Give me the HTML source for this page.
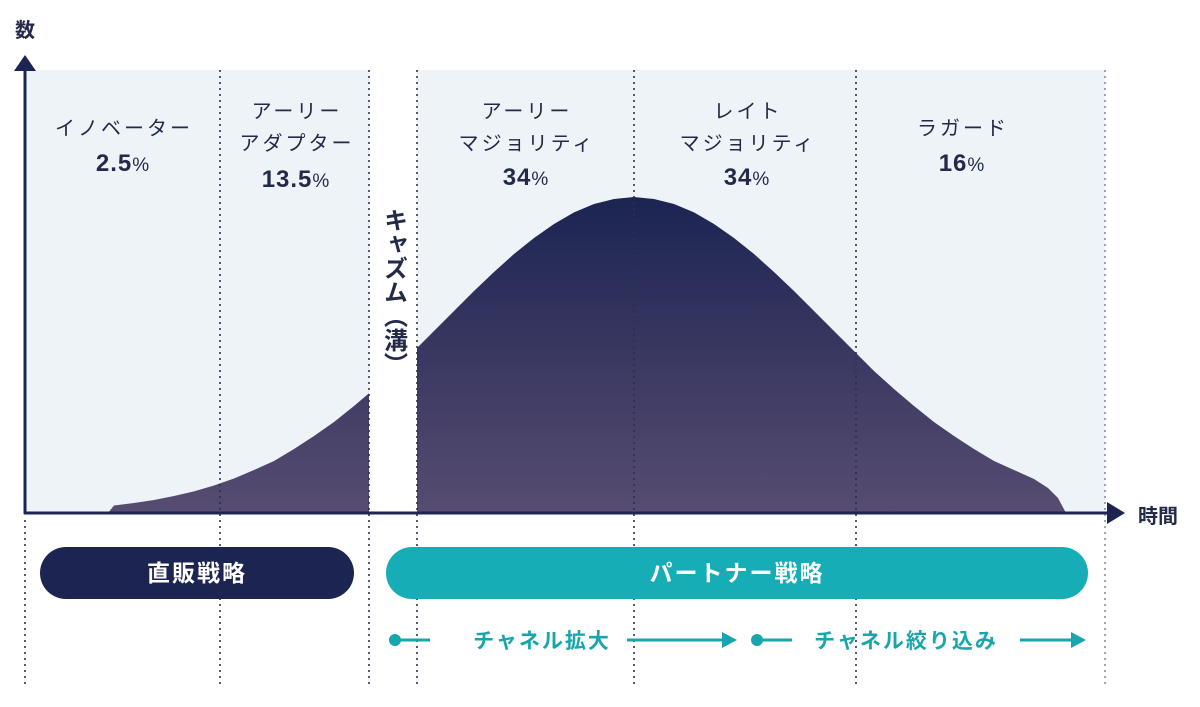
<!DOCTYPE html>
<html><head><meta charset="utf-8"><style>
html,body{margin:0;padding:0;background:#fff;}
body{width:1200px;height:707px;overflow:hidden;position:relative;font-family:"Liberation Sans","Noto Sans CJK JP",sans-serif;color:#222a48;}
svg{position:absolute;left:0;top:0;}
.t{font-family:"Liberation Sans","Noto Sans CJK JP",sans-serif;}
</style></head><body>
<svg width="1200" height="707" viewBox="0 0 1200 707">
<defs>
<linearGradient id="g" x1="0" y1="197" x2="0" y2="513" gradientUnits="userSpaceOnUse">
<stop offset="0" stop-color="#1c2452"/>
<stop offset="1" stop-color="#574c71"/>
</linearGradient>
</defs>
<rect x="25" y="70" width="1080" height="443" fill="#eef3f8"/>
<path d="M108,513 L114,505.5 L134,503 L154,500 L174,496 L194,491.4 L214,485.5 L234,478.5 L254,470 L274,461 L294,449 L314,436 L334,422 L354,406 L374,389 L394,371 L414,351 L434,331 L454,311 L474,291 L494,272 L514,254 L534,238 L554,224 L574,212.4 L594,204 L614,199 L634,197 L654,199 L674,204 L694,212.4 L714,224 L734,238 L754,254 L774,272 L794,291 L814,311 L834,331 L854,351 L874,371 L894,389 L914,406 L934,422 L954,436 L974,449 L994,461 L1014,470 L1034,479 L1048,488 L1058,498 L1066,513 Z" fill="url(#g)"/>
<rect x="369" y="70" width="48" height="442" fill="#fff"/>
<g stroke="#2a3150" stroke-width="1.6" stroke-dasharray="2,4">
<line x1="220" y1="70" x2="220" y2="688"/>
<line x1="369" y1="70" x2="369" y2="688"/>
<line x1="417" y1="70" x2="417" y2="688"/>
<line x1="634" y1="70" x2="634" y2="688"/>
<line x1="856" y1="70" x2="856" y2="688"/>
<line x1="25" y1="520" x2="25" y2="688"/>
</g>
<line x1="1105" y1="70" x2="1105" y2="688" stroke="#7a8098" stroke-width="1.4" stroke-dasharray="2,4"/>
<line x1="25" y1="68" x2="25" y2="514" stroke="#1c2452" stroke-width="3"/>
<polygon points="25,55 14,71 36,71" fill="#1c2452"/>
<line x1="24" y1="513" x2="1110" y2="513" stroke="#1c2452" stroke-width="3"/>
<polygon points="1125,513 1107,502 1107,524" fill="#1c2452"/>
<text x="25" y="37" text-anchor="middle" font-size="20" font-weight="bold" class="t" fill="#222a48">数</text>
<text x="1158" y="523" text-anchor="middle" font-size="20" font-weight="bold" class="t" fill="#222a48">時間</text>
<g font-size="20" class="t" fill="#222a48" text-anchor="middle" letter-spacing="3">
<text x="124" y="135">イノベーター</text>
<text x="297" y="118">アーリー</text>
<text x="297" y="150">アダプター</text>
<text x="527" y="118">アーリー</text>
<text x="527" y="150">マジョリティ</text>
<text x="748" y="118">レイト</text>
<text x="748" y="150">マジョリティ</text>
<text x="963" y="135">ラガード</text>
</g>
<g font-size="24" font-weight="bold" class="t" fill="#222a48" text-anchor="middle" letter-spacing="1">
<text x="123" y="171">2.5<tspan font-size="19" font-weight="normal">%</tspan></text>
<text x="296" y="187">13.5<tspan font-size="19" font-weight="normal">%</tspan></text>
<text x="526" y="185">34<tspan font-size="19" font-weight="normal">%</tspan></text>
<text x="747" y="185">34<tspan font-size="19" font-weight="normal">%</tspan></text>
<text x="962" y="171">16<tspan font-size="19" font-weight="normal">%</tspan></text>
</g>
<text x="393" y="208" font-size="24" font-weight="bold" class="t" fill="#222a48" style="writing-mode:vertical-rl;glyph-orientation-vertical:0">キャズム（溝）</text>
<rect x="40" y="547" width="314" height="52" rx="26" fill="#1c2452"/>
<text x="197" y="581" text-anchor="middle" font-size="23" font-weight="bold" class="t" fill="#fff" letter-spacing="2">直販戦略</text>
<rect x="386" y="547" width="702" height="52" rx="26" fill="#17adb6"/>
<text x="737" y="581" text-anchor="middle" font-size="23" font-weight="bold" class="t" fill="#fff" letter-spacing="2">パートナー戦略</text>
<g stroke="#17a6ad" stroke-width="3" fill="#17a6ad">
<circle cx="395" cy="640" r="6" stroke="none"/>
<line x1="395" y1="640" x2="430" y2="640"/>
<line x1="627" y1="640" x2="724" y2="640"/>
<polygon points="737,640 722,632 722,648" stroke="none"/>
<circle cx="757" cy="640" r="6" stroke="none"/>
<line x1="757" y1="640" x2="792" y2="640"/>
<line x1="1020" y1="640" x2="1074" y2="640"/>
<polygon points="1086,640 1071,632 1071,648" stroke="none"/>
</g>
<text x="542" y="648" text-anchor="middle" font-size="21" font-weight="bold" class="t" fill="#17a6ad" letter-spacing="2">チャネル拡大</text>
<text x="906" y="648" text-anchor="middle" font-size="21" font-weight="bold" class="t" fill="#17a6ad" letter-spacing="2">チャネル絞り込み</text>
</svg>
</body></html>
